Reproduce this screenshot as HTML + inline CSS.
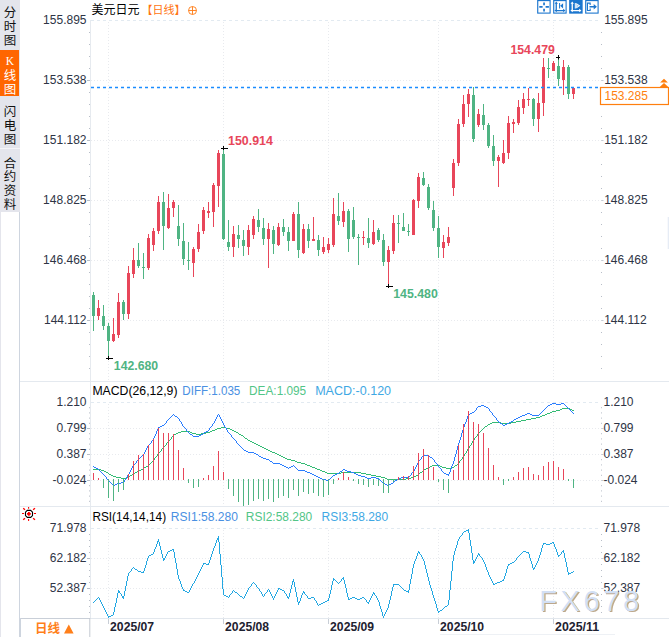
<!DOCTYPE html>
<html><head><meta charset="utf-8"><title>USDJPY</title>
<style>
html,body{margin:0;padding:0;background:#fff;}
body{width:669px;height:637px;overflow:hidden;font-family:"Liberation Sans",sans-serif;}
svg{display:block}
text{font-family:"Liberation Sans",sans-serif;font-size:12px}
.b{font-weight:bold}
.cjk{font-family:"Liberation Sans","Noto Sans CJK SC",sans-serif}
</style></head><body>
<svg width="669" height="637" viewBox="0 0 669 637">
<rect width="669" height="637" fill="#fff"/>
<rect x="0" y="0" width="20" height="212" fill="#E4E5EC"/>
<rect x="0" y="50" width="19" height="46" fill="#FF6600"/>
<rect x="0" y="148" width="20" height="1" fill="#F4F4F8"/>
<rect x="0" y="212" width="1" height="425" fill="#E4E5EC"/>
<rect x="19" y="212" width="1" height="425" fill="#CED5DF"/>
<g class="cjk" fill="#111" text-anchor="middle" style="font-size:12.5px">
<text class="cjk" x="10" y="16.5" style="font-size:12.5px">分</text>
<text class="cjk" x="10" y="30.5" style="font-size:12.5px">时</text>
<text class="cjk" x="10" y="44.6" style="font-size:12.5px">图</text>
</g>
<text x="9.8" y="65.2" text-anchor="middle" fill="#fff" style="font-family:'Liberation Serif',serif;font-size:11.5px">K</text>
<g fill="#fff" text-anchor="middle">
<text class="cjk" x="10" y="80" style="font-size:12.5px">线</text>
<text class="cjk" x="10" y="94" style="font-size:12.5px">图</text>
</g>
<g fill="#111" text-anchor="middle">
<text class="cjk" x="10" y="116" style="font-size:12.5px">闪</text>
<text class="cjk" x="10" y="129.9" style="font-size:12.5px">电</text>
<text class="cjk" x="10" y="143.8" style="font-size:12.5px">图</text>
</g>
<g fill="#111" text-anchor="middle">
<text class="cjk" x="10" y="167.5" style="font-size:12.5px">合</text>
<text class="cjk" x="10" y="181.3" style="font-size:12.5px">约</text>
<text class="cjk" x="10" y="195.2" style="font-size:12.5px">资</text>
<text class="cjk" x="10" y="209" style="font-size:12.5px">料</text>
</g>
<rect x="90" y="20" width="1" height="598" fill="#E6EAEF"/>
<rect x="20" y="381" width="649" height="1" fill="#E4E9EF"/>
<rect x="20" y="506" width="649" height="1" fill="#E4E9EF"/>
<rect x="90" y="618" width="579" height="1" fill="#E3E8EE"/>
<rect x="20" y="618" width="70" height="1" fill="#C9CFD8"/>
<rect x="440" y="634" width="175" height="1" fill="#EEF1F5"/>
<line x1="91" y1="20.5" x2="600" y2="20.5" stroke="#E2EAF1" stroke-width="1" stroke-dasharray="3 3"/>
<line x1="91" y1="80.5" x2="600" y2="80.5" stroke="#E8EAEE" stroke-width="1" stroke-dasharray="1 2"/>
<line x1="91" y1="140.5" x2="600" y2="140.5" stroke="#E8EAEE" stroke-width="1" stroke-dasharray="1 2"/>
<line x1="91" y1="200.5" x2="600" y2="200.5" stroke="#E8EAEE" stroke-width="1" stroke-dasharray="1 2"/>
<line x1="91" y1="260.5" x2="600" y2="260.5" stroke="#E8EAEE" stroke-width="1" stroke-dasharray="1 2"/>
<line x1="91" y1="320.5" x2="600" y2="320.5" stroke="#E8EAEE" stroke-width="1" stroke-dasharray="1 2"/>
<line x1="108.5" y1="22" x2="108.5" y2="381" stroke="#E8EAEE" stroke-width="1" stroke-dasharray="1 2"/>
<line x1="108.5" y1="404" x2="108.5" y2="506" stroke="#E8EAEE" stroke-width="1" stroke-dasharray="1 2"/>
<line x1="108.5" y1="530" x2="108.5" y2="618" stroke="#E8EAEE" stroke-width="1" stroke-dasharray="1 2"/>
<line x1="223.5" y1="22" x2="223.5" y2="381" stroke="#E8EAEE" stroke-width="1" stroke-dasharray="1 2"/>
<line x1="223.5" y1="404" x2="223.5" y2="506" stroke="#E8EAEE" stroke-width="1" stroke-dasharray="1 2"/>
<line x1="223.5" y1="530" x2="223.5" y2="618" stroke="#E8EAEE" stroke-width="1" stroke-dasharray="1 2"/>
<line x1="328.5" y1="22" x2="328.5" y2="381" stroke="#E8EAEE" stroke-width="1" stroke-dasharray="1 2"/>
<line x1="328.5" y1="404" x2="328.5" y2="506" stroke="#E8EAEE" stroke-width="1" stroke-dasharray="1 2"/>
<line x1="328.5" y1="530" x2="328.5" y2="618" stroke="#E8EAEE" stroke-width="1" stroke-dasharray="1 2"/>
<line x1="438.5" y1="22" x2="438.5" y2="381" stroke="#E8EAEE" stroke-width="1" stroke-dasharray="1 2"/>
<line x1="438.5" y1="404" x2="438.5" y2="506" stroke="#E8EAEE" stroke-width="1" stroke-dasharray="1 2"/>
<line x1="438.5" y1="530" x2="438.5" y2="618" stroke="#E8EAEE" stroke-width="1" stroke-dasharray="1 2"/>
<line x1="553.5" y1="22" x2="553.5" y2="381" stroke="#E8EAEE" stroke-width="1" stroke-dasharray="1 2"/>
<line x1="553.5" y1="404" x2="553.5" y2="506" stroke="#E8EAEE" stroke-width="1" stroke-dasharray="1 2"/>
<line x1="553.5" y1="530" x2="553.5" y2="618" stroke="#E8EAEE" stroke-width="1" stroke-dasharray="1 2"/>
<line x1="91" y1="402.5" x2="600" y2="402.5" stroke="#E2EAF1" stroke-width="1" stroke-dasharray="3 3"/>
<line x1="91" y1="428.5" x2="600" y2="428.5" stroke="#E8EAEE" stroke-width="1" stroke-dasharray="1 2"/>
<line x1="91" y1="454.5" x2="600" y2="454.5" stroke="#E8EAEE" stroke-width="1" stroke-dasharray="1 2"/>
<line x1="91" y1="480.5" x2="600" y2="480.5" stroke="#E8EAEE" stroke-width="1" stroke-dasharray="1 2"/>
<line x1="91" y1="528.5" x2="600" y2="528.5" stroke="#E2EAF1" stroke-width="1" stroke-dasharray="3 3"/>
<line x1="91" y1="558.5" x2="600" y2="558.5" stroke="#E8EAEE" stroke-width="1" stroke-dasharray="1 2"/>
<line x1="91" y1="588.5" x2="600" y2="588.5" stroke="#E8EAEE" stroke-width="1" stroke-dasharray="1 2"/>
<rect x="89" y="32" width="1" height="1" fill="#B8BEC8"/>
<rect x="601" y="32" width="1" height="1" fill="#B8BEC8"/>
<rect x="89" y="44" width="1" height="1" fill="#B8BEC8"/>
<rect x="601" y="44" width="1" height="1" fill="#B8BEC8"/>
<rect x="89" y="56" width="1" height="1" fill="#B8BEC8"/>
<rect x="601" y="56" width="1" height="1" fill="#B8BEC8"/>
<rect x="89" y="68" width="1" height="1" fill="#B8BEC8"/>
<rect x="601" y="68" width="1" height="1" fill="#B8BEC8"/>
<rect x="87" y="80" width="3" height="1" fill="#B8BEC8"/>
<rect x="601.2" y="80" width="2.3" height="1" fill="#C6CBD4"/>
<rect x="89" y="92" width="1" height="1" fill="#B8BEC8"/>
<rect x="601" y="92" width="1" height="1" fill="#B8BEC8"/>
<rect x="89" y="104" width="1" height="1" fill="#B8BEC8"/>
<rect x="601" y="104" width="1" height="1" fill="#B8BEC8"/>
<rect x="89" y="116" width="1" height="1" fill="#B8BEC8"/>
<rect x="601" y="116" width="1" height="1" fill="#B8BEC8"/>
<rect x="89" y="128" width="1" height="1" fill="#B8BEC8"/>
<rect x="601" y="128" width="1" height="1" fill="#B8BEC8"/>
<rect x="87" y="140" width="3" height="1" fill="#B8BEC8"/>
<rect x="601.2" y="140" width="2.3" height="1" fill="#C6CBD4"/>
<rect x="89" y="152" width="1" height="1" fill="#B8BEC8"/>
<rect x="601" y="152" width="1" height="1" fill="#B8BEC8"/>
<rect x="89" y="164" width="1" height="1" fill="#B8BEC8"/>
<rect x="601" y="164" width="1" height="1" fill="#B8BEC8"/>
<rect x="89" y="176" width="1" height="1" fill="#B8BEC8"/>
<rect x="601" y="176" width="1" height="1" fill="#B8BEC8"/>
<rect x="89" y="188" width="1" height="1" fill="#B8BEC8"/>
<rect x="601" y="188" width="1" height="1" fill="#B8BEC8"/>
<rect x="87" y="200" width="3" height="1" fill="#B8BEC8"/>
<rect x="601.2" y="200" width="2.3" height="1" fill="#C6CBD4"/>
<rect x="89" y="212" width="1" height="1" fill="#B8BEC8"/>
<rect x="601" y="212" width="1" height="1" fill="#B8BEC8"/>
<rect x="89" y="224" width="1" height="1" fill="#B8BEC8"/>
<rect x="601" y="224" width="1" height="1" fill="#B8BEC8"/>
<rect x="89" y="236" width="1" height="1" fill="#B8BEC8"/>
<rect x="601" y="236" width="1" height="1" fill="#B8BEC8"/>
<rect x="89" y="248" width="1" height="1" fill="#B8BEC8"/>
<rect x="601" y="248" width="1" height="1" fill="#B8BEC8"/>
<rect x="87" y="260" width="3" height="1" fill="#B8BEC8"/>
<rect x="601.2" y="260" width="2.3" height="1" fill="#C6CBD4"/>
<rect x="89" y="272" width="1" height="1" fill="#B8BEC8"/>
<rect x="601" y="272" width="1" height="1" fill="#B8BEC8"/>
<rect x="89" y="284" width="1" height="1" fill="#B8BEC8"/>
<rect x="601" y="284" width="1" height="1" fill="#B8BEC8"/>
<rect x="89" y="296" width="1" height="1" fill="#B8BEC8"/>
<rect x="601" y="296" width="1" height="1" fill="#B8BEC8"/>
<rect x="89" y="308" width="1" height="1" fill="#B8BEC8"/>
<rect x="601" y="308" width="1" height="1" fill="#B8BEC8"/>
<rect x="87" y="320" width="3" height="1" fill="#B8BEC8"/>
<rect x="601.2" y="320" width="2.3" height="1" fill="#C6CBD4"/>
<rect x="89" y="332" width="1" height="1" fill="#B8BEC8"/>
<rect x="601" y="332" width="1" height="1" fill="#B8BEC8"/>
<rect x="89" y="344" width="1" height="1" fill="#B8BEC8"/>
<rect x="601" y="344" width="1" height="1" fill="#B8BEC8"/>
<rect x="89" y="356" width="1" height="1" fill="#B8BEC8"/>
<rect x="601" y="356" width="1" height="1" fill="#B8BEC8"/>
<rect x="89" y="368" width="1" height="1" fill="#B8BEC8"/>
<rect x="601" y="368" width="1" height="1" fill="#B8BEC8"/>
<rect x="89" y="407.2" width="1" height="1" fill="#B8BEC8"/>
<rect x="601" y="407.2" width="1" height="1" fill="#B8BEC8"/>
<rect x="89" y="412.4" width="1" height="1" fill="#B8BEC8"/>
<rect x="601" y="412.4" width="1" height="1" fill="#B8BEC8"/>
<rect x="89" y="417.6" width="1" height="1" fill="#B8BEC8"/>
<rect x="601" y="417.6" width="1" height="1" fill="#B8BEC8"/>
<rect x="89" y="422.8" width="1" height="1" fill="#B8BEC8"/>
<rect x="601" y="422.8" width="1" height="1" fill="#B8BEC8"/>
<rect x="87" y="428" width="3" height="1" fill="#B8BEC8"/>
<rect x="601.2" y="428" width="2.3" height="1" fill="#C6CBD4"/>
<rect x="89" y="433.2" width="1" height="1" fill="#B8BEC8"/>
<rect x="601" y="433.2" width="1" height="1" fill="#B8BEC8"/>
<rect x="89" y="438.4" width="1" height="1" fill="#B8BEC8"/>
<rect x="601" y="438.4" width="1" height="1" fill="#B8BEC8"/>
<rect x="89" y="443.6" width="1" height="1" fill="#B8BEC8"/>
<rect x="601" y="443.6" width="1" height="1" fill="#B8BEC8"/>
<rect x="89" y="448.8" width="1" height="1" fill="#B8BEC8"/>
<rect x="601" y="448.8" width="1" height="1" fill="#B8BEC8"/>
<rect x="87" y="454" width="3" height="1" fill="#B8BEC8"/>
<rect x="601.2" y="454" width="2.3" height="1" fill="#C6CBD4"/>
<rect x="89" y="459.2" width="1" height="1" fill="#B8BEC8"/>
<rect x="601" y="459.2" width="1" height="1" fill="#B8BEC8"/>
<rect x="89" y="464.4" width="1" height="1" fill="#B8BEC8"/>
<rect x="601" y="464.4" width="1" height="1" fill="#B8BEC8"/>
<rect x="89" y="469.6" width="1" height="1" fill="#B8BEC8"/>
<rect x="601" y="469.6" width="1" height="1" fill="#B8BEC8"/>
<rect x="89" y="474.8" width="1" height="1" fill="#B8BEC8"/>
<rect x="601" y="474.8" width="1" height="1" fill="#B8BEC8"/>
<rect x="87" y="480" width="3" height="1" fill="#B8BEC8"/>
<rect x="601.2" y="480" width="2.3" height="1" fill="#C6CBD4"/>
<rect x="89" y="485.2" width="1" height="1" fill="#B8BEC8"/>
<rect x="601" y="485.2" width="1" height="1" fill="#B8BEC8"/>
<rect x="89" y="490.4" width="1" height="1" fill="#B8BEC8"/>
<rect x="601" y="490.4" width="1" height="1" fill="#B8BEC8"/>
<rect x="89" y="495.6" width="1" height="1" fill="#B8BEC8"/>
<rect x="601" y="495.6" width="1" height="1" fill="#B8BEC8"/>
<rect x="89" y="500.8" width="1" height="1" fill="#B8BEC8"/>
<rect x="601" y="500.8" width="1" height="1" fill="#B8BEC8"/>
<rect x="89" y="534" width="1" height="1" fill="#B8BEC8"/>
<rect x="601" y="534" width="1" height="1" fill="#B8BEC8"/>
<rect x="89" y="540" width="1" height="1" fill="#B8BEC8"/>
<rect x="601" y="540" width="1" height="1" fill="#B8BEC8"/>
<rect x="89" y="546" width="1" height="1" fill="#B8BEC8"/>
<rect x="601" y="546" width="1" height="1" fill="#B8BEC8"/>
<rect x="89" y="552" width="1" height="1" fill="#B8BEC8"/>
<rect x="601" y="552" width="1" height="1" fill="#B8BEC8"/>
<rect x="87" y="558" width="3" height="1" fill="#B8BEC8"/>
<rect x="601.2" y="558" width="2.3" height="1" fill="#C6CBD4"/>
<rect x="89" y="564" width="1" height="1" fill="#B8BEC8"/>
<rect x="601" y="564" width="1" height="1" fill="#B8BEC8"/>
<rect x="89" y="570" width="1" height="1" fill="#B8BEC8"/>
<rect x="601" y="570" width="1" height="1" fill="#B8BEC8"/>
<rect x="89" y="576" width="1" height="1" fill="#B8BEC8"/>
<rect x="601" y="576" width="1" height="1" fill="#B8BEC8"/>
<rect x="89" y="582" width="1" height="1" fill="#B8BEC8"/>
<rect x="601" y="582" width="1" height="1" fill="#B8BEC8"/>
<rect x="87" y="588" width="3" height="1" fill="#B8BEC8"/>
<rect x="601.2" y="588" width="2.3" height="1" fill="#C6CBD4"/>
<rect x="89" y="594" width="1" height="1" fill="#B8BEC8"/>
<rect x="601" y="594" width="1" height="1" fill="#B8BEC8"/>
<rect x="89" y="600" width="1" height="1" fill="#B8BEC8"/>
<rect x="601" y="600" width="1" height="1" fill="#B8BEC8"/>
<rect x="89" y="606" width="1" height="1" fill="#B8BEC8"/>
<rect x="601" y="606" width="1" height="1" fill="#B8BEC8"/>
<rect x="89" y="612" width="1" height="1" fill="#B8BEC8"/>
<rect x="601" y="612" width="1" height="1" fill="#B8BEC8"/>
<text x="86.5" y="23.7" text-anchor="end" fill="#2E3445">155.895</text>
<text x="604.2" y="23.7" fill="#2E3445">155.895</text>
<text x="86.5" y="83.7" text-anchor="end" fill="#2E3445">153.538</text>
<text x="604.2" y="83.7" fill="#2E3445">153.538</text>
<text x="86.5" y="143.7" text-anchor="end" fill="#2E3445">151.182</text>
<text x="604.2" y="143.7" fill="#2E3445">151.182</text>
<text x="86.5" y="203.7" text-anchor="end" fill="#2E3445">148.825</text>
<text x="604.2" y="203.7" fill="#2E3445">148.825</text>
<text x="86.5" y="263.7" text-anchor="end" fill="#2E3445">146.468</text>
<text x="604.2" y="263.7" fill="#2E3445">146.468</text>
<text x="86.5" y="323.7" text-anchor="end" fill="#2E3445">144.112</text>
<text x="604.2" y="323.7" fill="#2E3445">144.112</text>
<text x="86.5" y="405.7" text-anchor="end" fill="#2E3445">1.210</text>
<text x="603.5" y="405.7" fill="#2E3445">1.210</text>
<text x="86.5" y="431.7" text-anchor="end" fill="#2E3445">0.799</text>
<text x="603.5" y="431.7" fill="#2E3445">0.799</text>
<text x="86.5" y="457.7" text-anchor="end" fill="#2E3445">0.387</text>
<text x="603.5" y="457.7" fill="#2E3445">0.387</text>
<text x="86.5" y="483.7" text-anchor="end" fill="#2E3445">-0.024</text>
<text x="603.5" y="483.7" fill="#2E3445">-0.024</text>
<text x="86.5" y="531.7" text-anchor="end" fill="#2E3445">71.978</text>
<text x="603.5" y="531.7" fill="#2E3445">71.978</text>
<text x="86.5" y="561.7" text-anchor="end" fill="#2E3445">62.182</text>
<text x="603.5" y="561.7" fill="#2E3445">62.182</text>
<text x="86.5" y="591.7" text-anchor="end" fill="#2E3445">52.387</text>
<text x="603.5" y="591.7" fill="#2E3445">52.387</text>
<rect x="667.7" y="217" width="1.3" height="32" fill="#E6ECF5"/>
<text class="cjk" x="91.5" y="13.5" fill="#000" style="font-size:12px">美元日元</text>
<text class="cjk" x="141.5" y="13.7" fill="#FF7410" style="font-size:11px">【日线】</text>
<g stroke="#FF7A14" stroke-width="0.9" fill="none"><circle cx="192.5" cy="10.5" r="4"/><path d="M188.5 10.5H196.5M192.5 6.5V14.5"/></g>
<rect x="537.15" y="-1" width="13.5" height="14.65" fill="#1B76CE"/>
<rect x="538.3" y="1.15" width="11.25" height="11.4" fill="#fff"/>
<path fill="#1B76CE" d="M539.3 6.1h3.3v1.6H539.3zM545.6 6.1h3.3v1.6h-3.3zM543.2 2.4h1.7v2.8h-1.7zM543.2 8.8h1.7v2.8h-1.7z"/>
<rect x="553.15" y="-1" width="13.5" height="14.65" fill="#1B76CE"/>
<rect x="554.3" y="1.15" width="11.25" height="11.4" fill="#fff"/>
<path fill="#1B76CE" d="M555.6 2.6h1.3v8.6h-1.3zM555.2 9.9h9.8v1.3h-9.8zM556.25 1.5l1.7 2.3h-3.4zM565.4 10.55l-2.3 1.7v-3.4zM556.25 12.2l-1.5-1.9h3zM554.4 10.55l1.9-1.5v3z"/>
<path fill="#1B76CE" d="M559.1 3.1h1v5.5h-1zM560.2 5.85L563.1 3.2v5.3z"/>
<rect x="569.15" y="-1" width="13.5" height="14.65" fill="#1B76CE"/>
<path fill="#fff" d="M571.6 2.6h1.3v8.6h-1.3zM571.2 9.9h9.8v1.3h-9.8zM572.25 1.5l1.7 2.3h-3.4zM581.4 10.55l-2.3 1.7v-3.4zM572.25 12.2l-1.5-1.9h3zM570.4 10.55l1.9-1.5v3z"/>
<path fill="#fff" d="M574.8 3.1h1v5.5h-1zM576.2 3.1L580.3 5.85L576.2 8.6z"/>
<path fill="#9CC6EE" d="M577 4.6L578.9 5.85L577 7.1z"/>
<rect x="585.15" y="-1" width="13.5" height="14.65" fill="#1B76CE"/>
<rect x="586.3" y="1.15" width="11.25" height="11.4" fill="#fff"/>
<path fill="#1B76CE" d="M586.9 2.6h3.8v2.4h-1.1v-1.3h-1.6v6.2h1.6v-1.3h1.1v2.4h-3.8z"/>
<path fill="#1B76CE" d="M589.5 6h4.2v-1.9L596.9 6.8 593.7 9.5V7.6h-4.2z"/>
<path fill="#4FB483" d="M93 292h1V331h-1zM92 295h3V316h-3zM103 305h1V330h-1zM102 316h3V326h-3zM108 323h1V358h-1zM107 326h3V341h-3zM123 300h1V320h-1zM122 302h3V314h-3zM138 243h1V268h-1zM137 260h3V266h-3zM143 253h1V279h-1zM142 267h3V268h-3zM163 192h1V250h-1zM162 202h3V226h-3zM178 205h1V246h-1zM177 226h3V239h-3zM183 223h1V265h-1zM182 241h3V259h-3zM188 242h1V270h-1zM187 260h3V261h-3zM223 148h1V240h-1zM222 154h3V239h-3zM228 220h1V251h-1zM227 242h3V247h-3zM238 225h1V248h-1zM237 235h3V239h-3zM243 230h1V256h-1zM242 240h3V246h-3zM258 209h1V232h-1zM257 220h3V227h-3zM263 218h1V245h-1zM262 228h3V239h-3zM273 226h1V254h-1zM272 230h3V244h-3zM283 219h1V236h-1zM282 227h3V232h-3zM288 227h1V251h-1zM287 232h3V241h-3zM298 202h1V258h-1zM297 214h3V250h-3zM308 224h1V248h-1zM307 229h3V241h-3zM318 235h1V256h-1zM317 240h3V250h-3zM338 193h1V225h-1zM337 216h3V221h-3zM348 209h1V252h-1zM347 211h3V239h-3zM353 207h1V239h-1zM352 220h3V237h-3zM358 234h1V265h-1zM357 237h3V238h-3zM368 218h1V248h-1zM367 238h3V243h-3zM378 228h1V242h-1zM377 230h3V240h-3zM383 234h1V266h-1zM382 240h3V262h-3zM398 215h1V243h-1zM397 223h3V224h-3zM403 213h1V231h-1zM402 227h3V231h-3zM408 224h1V236h-1zM407 231h3V232h-3zM423 172h1V186h-1zM422 178h3V185h-3zM428 184h1V210h-1zM427 187h3V208h-3zM433 201h1V231h-1zM432 210h3V228h-3zM438 216h1V258h-1zM437 228h3V247h-3zM473 87h1V142h-1zM472 95h3V139h-3zM483 104h1V130h-1zM482 115h3V125h-3zM488 123h1V148h-1zM487 125h3V146h-3zM493 135h1V166h-1zM492 146h3V161h-3zM533 98h1V126h-1zM532 99h3V119h-3zM548 58h1V78h-1zM547 68h3V69h-3zM558 58h1V86h-1zM557 66h3V79h-3zM568 65h1V99h-1zM567 67h3V94h-3z"/>
<path fill="#E8465A" d="M98 300h1V320h-1zM97 308h3V316h-3zM113 318h1V342h-1zM112 334h3V341h-3zM118 293h1V338h-1zM117 302h3V335h-3zM128 266h1V319h-1zM127 273h3V314h-3zM133 248h1V278h-1zM132 260h3V274h-3zM148 234h1V270h-1zM147 238h3V268h-3zM153 228h1V251h-1zM152 231h3V245h-3zM158 196h1V234h-1zM157 202h3V231h-3zM168 194h1V229h-1zM167 208h3V228h-3zM173 200h1V217h-1zM172 202h3V208h-3zM193 247h1V277h-1zM192 249h3V263h-3zM198 224h1V252h-1zM197 232h3V249h-3zM203 207h1V234h-1zM202 210h3V231h-3zM208 202h1V218h-1zM207 211h3V213h-3zM213 183h1V227h-1zM212 185h3V212h-3zM218 150h1V207h-1zM217 153h3V186h-3zM233 226h1V257h-1zM232 234h3V247h-3zM248 225h1V255h-1zM247 230h3V247h-3zM253 216h1V239h-1zM252 219h3V235h-3zM268 223h1V268h-1zM267 229h3V239h-3zM278 223h1V246h-1zM277 227h3V245h-3zM293 212h1V241h-1zM292 214h3V241h-3zM303 224h1V254h-1zM302 229h3V253h-3zM313 217h1V241h-1zM312 239h3V241h-3zM323 237h1V254h-1zM322 247h3V252h-3zM328 238h1V253h-1zM327 244h3V250h-3zM333 198h1V247h-1zM332 214h3V245h-3zM343 202h1V227h-1zM342 211h3V222h-3zM363 231h1V245h-1zM362 237h3V238h-3zM373 220h1V245h-1zM372 232h3V244h-3zM388 246h1V286h-1zM387 250h3V262h-3zM393 215h1V254h-1zM392 223h3V251h-3zM413 199h1V235h-1zM412 200h3V235h-3zM418 173h1V208h-1zM417 177h3V201h-3zM443 235h1V258h-1zM442 242h3V248h-3zM448 227h1V246h-1zM447 237h3V243h-3zM453 159h1V196h-1zM452 163h3V188h-3zM458 119h1V166h-1zM457 124h3V163h-3zM463 95h1V127h-1zM462 104h3V124h-3zM468 89h1V117h-1zM467 94h3V104h-3zM478 109h1V127h-1zM477 114h3V125h-3zM498 155h1V187h-1zM497 157h3V161h-3zM503 140h1V164h-1zM502 153h3V163h-3zM508 116h1V159h-1zM507 123h3V153h-3zM513 119h1V133h-1zM512 122h3V124h-3zM518 100h1V125h-1zM517 107h3V123h-3zM523 93h1V114h-1zM522 99h3V108h-3zM528 88h1V106h-1zM527 99h3V100h-3zM538 93h1V132h-1zM537 103h3V119h-3zM543 58h1V116h-1zM542 67h3V103h-3zM553 61h1V71h-1zM552 63h3V71h-3zM563 60h1V95h-1zM562 67h3V80h-3zM573 87h1V99h-1zM572 88h3V94h-3z"/>
<line x1="91" y1="87.5" x2="600" y2="87.5" stroke="#1A8CFF" stroke-width="1.35" stroke-dasharray="3 3"/>
<rect x="600.5" y="87.5" width="68" height="17" fill="#fff" stroke="#FF7F0E" stroke-width="1.2"/>
<text x="604.5" y="100" fill="#FF7F0E">153.285</text>
<path fill="#FF7F0E" d="M664 78.8l3.9 3.8h-7.8zM664 83l4.8 4.6h-9.6z"/>
<path fill="#000" d="M221 148h7v1h-7zM223 146h1v4h-1z"/>
<text class="b" x="228.1" y="145" fill="#E8465A" textLength="44.8" lengthAdjust="spacingAndGlyphs">150.914</text>
<path fill="#000" d="M106 358h7v1h-7zM108 356h1v4h-1z"/>
<text class="b" x="113.8" y="369.7" fill="#4FB483" textLength="44.4" lengthAdjust="spacingAndGlyphs">142.680</text>
<path fill="#000" d="M386 286h7v1h-7zM388 284h1v4h-1z"/>
<text class="b" x="393.2" y="297.5" fill="#4FB483" textLength="44.6" lengthAdjust="spacingAndGlyphs">145.480</text>
<path fill="#000" d="M556 57h4v1h-4zM558 55h1v4.4h-1z"/>
<text class="b" x="510.4" y="54" fill="#E8465A" textLength="44.5" lengthAdjust="spacingAndGlyphs">154.479</text>
<path fill="#33BB74" d="M469 446h1v2h-1zM154 458h1v2h-1zM157 454h1v2h-1zM472 441h1v2h-1zM459 461h1v2h-1zM471 443h1v2h-1zM462 457h1v2h-1zM467 449h1v2h-1zM474 438h1v2h-1zM166 443h1v2h-1zM161 449h1v2h-1zM477 434h1v2h-1zM464 454h1v2h-1zM171 437h1v2h-1zM466 451h1v2h-1zM149 464h1v1h-1zM305 464h2v1h-2zM457 464h1v1h-1zM542 415h3v1h-3zM111 475h2v1h-2zM130 475h2v1h-2zM371 475h5v1h-5zM416 475h2v1h-2zM113 476h3v1h-3zM129 476h1v1h-1zM376 476h5v1h-5zM414 476h2v1h-2zM490 423h2v1h-2zM501 423h10v1h-10zM104 471h2v1h-2zM137 471h2v1h-2zM322 471h3v1h-3zM422 471h1v1h-1zM212 430h3v1h-3zM232 430h2v1h-2zM481 430h1v1h-1zM143 468h1v1h-1zM315 468h2v1h-2zM426 468h2v1h-2zM446 468h5v1h-5zM536 417h4v1h-4zM108 473h1v1h-1zM133 473h2v1h-2zM327 473h14v1h-14zM361 473h5v1h-5zM419 473h1v1h-1zM153 460h1v1h-1zM291 460h4v1h-4zM460 460h1v1h-1zM106 472h2v1h-2zM135 472h2v1h-2zM325 472h2v1h-2zM341 472h20v1h-20zM420 472h2v1h-2zM221 427h5v1h-5zM484 427h1v1h-1zM562 408h8v1h-8zM144 467h2v1h-2zM312 467h3v1h-3zM428 467h2v1h-2zM442 467h4v1h-4zM451 467h3v1h-3zM245 438h2v1h-2zM101 470h3v1h-3zM139 470h2v1h-2zM320 470h2v1h-2zM423 470h1v1h-1zM173 435h1v1h-1zM241 435h2v1h-2zM387 479h19v1h-19zM531 418h5v1h-5zM93 469h8v1h-8zM141 469h2v1h-2zM317 469h3v1h-3zM424 469h2v1h-2zM492 422h9v1h-9zM511 422h5v1h-5zM215 429h2v1h-2zM230 429h2v1h-2zM482 429h1v1h-1zM148 465h1v1h-1zM307 465h3v1h-3zM432 465h8v1h-8zM455 465h2v1h-2zM181 431h9v1h-9zM210 431h2v1h-2zM234 431h2v1h-2zM480 431h1v1h-1zM116 477h5v1h-5zM126 477h3v1h-3zM381 477h4v1h-4zM411 477h3v1h-3zM162 448h1v1h-1zM264 448h2v1h-2zM468 448h1v1h-1zM150 463h1v1h-1zM301 463h4v1h-4zM458 463h1v1h-1zM217 428h4v1h-4zM226 428h4v1h-4zM483 428h1v1h-1zM121 478h5v1h-5zM385 478h2v1h-2zM406 478h5v1h-5zM174 434h2v1h-2zM196 434h5v1h-5zM239 434h2v1h-2zM550 412h2v1h-2zM526 419h5v1h-5zM158 453h1v1h-1zM275 453h2v1h-2zM465 453h1v1h-1zM178 432h3v1h-3zM190 432h2v1h-2zM206 432h4v1h-4zM236 432h2v1h-2zM479 432h1v1h-1zM556 410h4v1h-4zM572 410h2v1h-2zM488 424h2v1h-2zM156 456h1v1h-1zM281 456h2v1h-2zM463 456h1v1h-1zM176 433h2v1h-2zM192 433h4v1h-4zM201 433h5v1h-5zM238 433h1v1h-1zM478 433h1v1h-1zM545 414h2v1h-2zM285 458h2v1h-2zM552 411h4v1h-4zM160 451h1v1h-1zM270 451h2v1h-2zM163 447h1v1h-1zM262 447h2v1h-2zM172 436h1v1h-1zM243 436h1v1h-1zM476 436h1v1h-1zM266 449h2v1h-2zM169 440h1v1h-1zM248 440h2v1h-2zM473 440h1v1h-1zM287 459h4v1h-4zM461 459h1v1h-1zM521 420h5v1h-5zM164 446h1v1h-1zM260 446h2v1h-2zM146 466h2v1h-2zM310 466h2v1h-2zM430 466h2v1h-2zM440 466h2v1h-2zM454 466h1v1h-1zM159 452h1v1h-1zM272 452h3v1h-3zM109 474h2v1h-2zM132 474h1v1h-1zM366 474h5v1h-5zM418 474h1v1h-1zM487 425h1v1h-1zM167 442h1v1h-1zM252 442h2v1h-2zM547 413h3v1h-3zM277 454h2v1h-2zM152 461h1v1h-1zM295 461h2v1h-2zM244 437h1v1h-1zM475 437h1v1h-1zM254 443h2v1h-2zM516 421h5v1h-5zM165 445h1v1h-1zM258 445h2v1h-2zM470 445h1v1h-1zM168 441h1v1h-1zM250 441h2v1h-2zM170 439h1v1h-1zM247 439h1v1h-1zM560 409h2v1h-2zM570 409h2v1h-2zM151 462h1v1h-1zM297 462h4v1h-4zM540 416h2v1h-2zM485 426h2v1h-2zM268 450h2v1h-2zM256 444h2v1h-2zM279 455h2v1h-2zM155 457h1v1h-1zM283 457h2v1h-2z"/>
<path fill="#2A7DFF" d="M220 417h1v2h-1zM450 469h1v3h-1zM463 427h1v3h-1zM454 457h1v4h-1zM158 427h1v2h-1zM449 472h1v2h-1zM219 415h1v2h-1zM222 421h1v2h-1zM462 430h1v3h-1zM231 435h1v2h-1zM146 448h1v2h-1zM131 468h1v2h-1zM461 433h1v4h-1zM153 438h1v2h-1zM453 461h1v3h-1zM226 428h1v2h-1zM411 473h1v2h-1zM457 446h1v4h-1zM166 421h1v2h-1zM452 464h1v2h-1zM496 418h1v2h-1zM434 460h1v2h-1zM106 477h1v2h-1zM414 469h1v2h-1zM489 409h1v2h-1zM418 461h1v2h-1zM157 429h1v2h-1zM448 474h1v2h-1zM132 466h1v2h-1zM156 431h1v3h-1zM145 450h1v2h-1zM464 424h1v3h-1zM456 450h1v4h-1zM437 464h1v2h-1zM124 480h1v2h-1zM421 457h1v2h-1zM217 415h1v2h-1zM417 463h1v2h-1zM144 452h1v2h-1zM179 419h1v2h-1zM460 437h1v3h-1zM127 475h1v2h-1zM451 466h1v3h-1zM468 414h1v2h-1zM151 441h1v2h-1zM455 454h1v3h-1zM459 440h1v3h-1zM182 424h1v2h-1zM416 465h1v2h-1zM209 428h1v2h-1zM136 461h1v2h-1zM467 416h1v3h-1zM216 417h1v2h-1zM155 434h1v2h-1zM458 443h1v3h-1zM212 424h1v2h-1zM466 419h1v3h-1zM227 430h1v2h-1zM126 477h1v2h-1zM181 422h1v2h-1zM223 423h1v2h-1zM130 470h1v2h-1zM215 419h1v2h-1zM154 436h1v2h-1zM492 413h1v2h-1zM415 467h1v2h-1zM236 441h1v2h-1zM465 422h1v2h-1zM441 469h1v2h-1zM129 472h1v2h-1zM214 421h1v2h-1zM224 425h1v2h-1zM476 408h1v2h-1zM221 419h1v2h-1zM186 429h1v2h-1zM147 446h1v2h-1zM193 436h6v1h-6zM318 477h2v1h-2zM331 477h1v1h-1zM365 477h2v1h-2zM371 477h5v1h-5zM401 477h8v1h-8zM111 483h1v1h-1zM117 483h4v1h-4zM383 483h2v1h-2zM391 483h2v1h-2zM149 444h1v1h-1zM238 444h1v1h-1zM112 484h1v1h-1zM115 484h2v1h-2zM385 484h2v1h-2zM389 484h2v1h-2zM320 478h2v1h-2zM330 478h1v1h-1zM367 478h4v1h-4zM376 478h3v1h-3zM398 478h3v1h-3zM167 420h1v1h-1zM497 420h1v1h-1zM513 420h1v1h-1zM103 474h1v1h-1zM128 474h1v1h-1zM312 474h2v1h-2zM335 474h2v1h-2zM356 474h2v1h-2zM446 474h2v1h-2zM192 435h1v1h-1zM199 435h2v1h-2zM164 424h1v1h-1zM502 424h1v1h-1zM505 424h2v1h-2zM150 443h1v1h-1zM237 443h1v1h-1zM550 404h2v1h-2zM556 404h5v1h-5zM564 404h1v1h-1zM188 432h1v1h-1zM204 432h2v1h-2zM228 432h1v1h-1zM478 406h3v1h-3zM484 406h2v1h-2zM547 406h1v1h-1zM566 406h1v1h-1zM180 421h1v1h-1zM498 421h1v1h-1zM511 421h2v1h-2zM272 462h1v1h-1zM435 462h1v1h-1zM101 472h1v1h-1zM307 472h3v1h-3zM339 472h1v1h-1zM351 472h3v1h-3zM412 472h1v1h-1zM443 472h1v1h-1zM475 410h1v1h-1zM543 410h1v1h-1zM570 410h1v1h-1zM172 415h1v1h-1zM174 415h1v1h-1zM493 415h1v1h-1zM522 415h3v1h-3zM532 415h7v1h-7zM94 467h2v1h-2zM286 467h2v1h-2zM289 467h2v1h-2zM295 467h1v1h-1zM439 467h1v1h-1zM104 475h1v1h-1zM314 475h2v1h-2zM333 475h2v1h-2zM358 475h3v1h-3zM410 475h1v1h-1zM98 469h1v1h-1zM297 469h1v1h-1zM343 469h2v1h-2zM108 480h1v1h-1zM326 480h3v1h-3zM380 480h1v1h-1zM395 480h2v1h-2zM481 405h3v1h-3zM548 405h2v1h-2zM565 405h1v1h-1zM248 452h6v1h-6zM135 463h1v1h-1zM273 463h7v1h-7zM436 463h1v1h-1zM113 485h2v1h-2zM387 485h2v1h-2zM138 459h1v1h-1zM266 459h3v1h-3zM420 459h1v1h-1zM433 459h1v1h-1zM100 471h1v1h-1zM305 471h2v1h-2zM340 471h2v1h-2zM347 471h4v1h-4zM413 471h1v1h-1zM442 471h1v1h-1zM165 423h1v1h-1zM213 423h1v1h-1zM500 423h2v1h-2zM507 423h2v1h-2zM552 403h4v1h-4zM561 403h3v1h-3zM162 425h2v1h-2zM503 425h2v1h-2zM244 450h2v1h-2zM189 433h1v1h-1zM203 433h1v1h-1zM229 433h1v1h-1zM173 414h1v1h-1zM218 414h1v1h-1zM469 414h1v1h-1zM525 414h2v1h-2zM530 414h2v1h-2zM539 414h1v1h-1zM270 461h2v1h-2zM190 434h2v1h-2zM201 434h2v1h-2zM230 434h1v1h-1zM107 479h1v1h-1zM125 479h1v1h-1zM322 479h4v1h-4zM329 479h1v1h-1zM379 479h1v1h-1zM397 479h1v1h-1zM139 458h1v1h-1zM263 458h3v1h-3zM432 458h1v1h-1zM110 482h1v1h-1zM121 482h3v1h-3zM382 482h1v1h-1zM393 482h1v1h-1zM99 470h1v1h-1zM298 470h7v1h-7zM342 470h1v1h-1zM345 470h2v1h-2zM143 454h1v1h-1zM256 454h2v1h-2zM187 431h1v1h-1zM206 431h2v1h-2zM170 417h1v1h-1zM177 417h1v1h-1zM495 417h1v1h-1zM518 417h2v1h-2zM141 456h1v1h-1zM259 456h2v1h-2zM422 456h1v1h-1zM429 456h1v1h-1zM105 476h1v1h-1zM316 476h2v1h-2zM332 476h1v1h-1zM361 476h4v1h-4zM409 476h1v1h-1zM102 473h1v1h-1zM310 473h2v1h-2zM337 473h2v1h-2zM354 473h2v1h-2zM444 473h2v1h-2zM169 418h1v1h-1zM178 418h1v1h-1zM516 418h2v1h-2zM96 468h2v1h-2zM288 468h1v1h-1zM296 468h1v1h-1zM440 468h1v1h-1zM159 427h1v1h-1zM184 427h1v1h-1zM210 427h1v1h-1zM225 427h1v1h-1zM488 408h1v1h-1zM545 408h1v1h-1zM568 408h1v1h-1zM160 426h2v1h-2zM183 426h1v1h-1zM211 426h1v1h-1zM240 446h1v1h-1zM254 453h2v1h-2zM474 411h1v1h-1zM490 411h1v1h-1zM542 411h1v1h-1zM571 411h1v1h-1zM499 422h1v1h-1zM509 422h2v1h-2zM472 412h2v1h-2zM491 412h1v1h-1zM541 412h1v1h-1zM572 412h1v1h-1zM134 464h1v1h-1zM280 464h2v1h-2zM232 437h1v1h-1zM477 407h1v1h-1zM486 407h2v1h-2zM546 407h1v1h-1zM567 407h1v1h-1zM233 438h1v1h-1zM140 457h1v1h-1zM261 457h2v1h-2zM430 457h2v1h-2zM93 466h1v1h-1zM284 466h2v1h-2zM291 466h2v1h-2zM294 466h1v1h-1zM438 466h1v1h-1zM152 440h1v1h-1zM235 440h1v1h-1zM171 416h1v1h-1zM175 416h2v1h-2zM494 416h1v1h-1zM520 416h2v1h-2zM137 460h1v1h-1zM269 460h1v1h-1zM419 460h1v1h-1zM470 413h2v1h-2zM527 413h3v1h-3zM540 413h1v1h-1zM573 413h1v1h-1zM142 455h1v1h-1zM258 455h1v1h-1zM423 455h6v1h-6zM246 451h2v1h-2zM109 481h1v1h-1zM381 481h1v1h-1zM394 481h1v1h-1zM241 447h1v1h-1zM242 448h1v1h-1zM234 439h1v1h-1zM133 465h1v1h-1zM282 465h2v1h-2zM293 465h1v1h-1zM544 409h1v1h-1zM569 409h1v1h-1zM168 419h1v1h-1zM514 419h2v1h-2zM243 449h1v1h-1zM148 445h1v1h-1zM239 445h1v1h-1zM185 428h1v1h-1zM208 430h1v1h-1z"/>
<path fill="#4FB483" d="M103 479h1V488h-1zM108 479h1V498h-1zM113 479h1V501h-1zM118 479h1V492h-1zM123 479h1V490h-1zM188 479h1V483h-1zM193 479h1V488h-1zM198 479h1V487h-1zM228 479h1V489h-1zM233 479h1V496h-1zM238 479h1V502h-1zM243 479h1V506h-1zM248 479h1V505h-1zM253 479h1V501h-1zM258 479h1V499h-1zM263 479h1V501h-1zM268 479h1V499h-1zM273 479h1V502h-1zM278 479h1V498h-1zM283 479h1V496h-1zM288 479h1V498h-1zM293 479h1V490h-1zM298 479h1V496h-1zM303 479h1V492h-1zM308 479h1V494h-1zM313 479h1V493h-1zM318 479h1V496h-1zM323 479h1V497h-1zM328 479h1V495h-1zM333 479h1V484h-1zM353 479h1V481h-1zM358 479h1V484h-1zM363 479h1V485h-1zM368 479h1V487h-1zM373 479h1V485h-1zM378 479h1V486h-1zM383 479h1V493h-1zM388 479h1V493h-1zM393 479h1V482h-1zM438 479h1V482h-1zM443 479h1V490h-1zM448 479h1V493h-1zM503 479h1V485h-1zM508 479h1V481h-1zM568 479h1V481h-1zM573 479h1V488h-1z"/>
<path fill="#E8465A" d="M93 473h1V480h-1zM98 478h1V480h-1zM128 474h1V480h-1zM133 461h1V480h-1zM138 455h1V480h-1zM143 454h1V480h-1zM148 445h1V480h-1zM153 439h1V480h-1zM158 428h1V480h-1zM163 433h1V480h-1zM168 433h1V480h-1zM173 434h1V480h-1zM178 450h1V480h-1zM183 468h1V480h-1zM203 478h1V480h-1zM208 475h1V480h-1zM213 466h1V480h-1zM218 451h1V480h-1zM223 472h1V480h-1zM338 478h1V480h-1zM343 472h1V480h-1zM348 477h1V480h-1zM398 477h1V480h-1zM403 476h1V480h-1zM408 476h1V480h-1zM413 466h1V480h-1zM418 453h1V480h-1zM423 449h1V480h-1zM428 455h1V480h-1zM433 467h1V480h-1zM453 470h1V480h-1zM458 445h1V480h-1zM463 424h1V480h-1zM468 411h1V480h-1zM473 422h1V480h-1zM478 424h1V480h-1zM483 433h1V480h-1zM488 448h1V480h-1zM493 465h1V480h-1zM498 477h1V480h-1zM513 477h1V480h-1zM518 472h1V480h-1zM523 468h1V480h-1zM528 467h1V480h-1zM533 474h1V480h-1zM538 475h1V480h-1zM543 466h1V480h-1zM548 462h1V480h-1zM553 461h1V480h-1zM558 467h1V480h-1zM563 469h1V480h-1z"/>
<text x="92.4" y="395" fill="#000" textLength="85.1" lengthAdjust="spacingAndGlyphs">MACD(26,12,9)</text>
<text x="182.3" y="395" fill="#4A90E2" textLength="58.0" lengthAdjust="spacingAndGlyphs">DIFF:1.035</text>
<text x="249.1" y="395" fill="#52C587" textLength="57.1" lengthAdjust="spacingAndGlyphs">DEA:1.095</text>
<text x="315.2" y="395" fill="#3FA8E4" textLength="75.9" lengthAdjust="spacingAndGlyphs">MACD:-0.120</text>
<path fill="#22A7E2" d="M147 558h1v3h-1zM200 569h1v2h-1zM116 598h1v5h-1zM451 571h1v10h-1zM294 582h1v5h-1zM516 558h1v2h-1zM222 577h1v12h-1zM212 551h1v3h-1zM455 548h1v3h-1zM192 584h1v2h-1zM474 561h1v2h-1zM424 561h1v4h-1zM416 556h1v3h-1zM459 537h1v2h-1zM216 540h1v3h-1zM370 598h1v2h-1zM276 592h1v2h-1zM488 572h1v3h-1zM256 585h1v2h-1zM531 561h1v3h-1zM245 594h1v2h-1zM174 552h1v6h-1zM208 563h1v2h-1zM554 544h1v3h-1zM449 590h1v10h-1zM229 595h1v2h-1zM332 581h1v4h-1zM123 596h1v3h-1zM470 540h1v6h-1zM450 581h1v9h-1zM219 542h1v12h-1zM388 604h1v4h-1zM421 555h1v2h-1zM344 580h1v4h-1zM454 551h1v4h-1zM211 554h1v3h-1zM568 572h1v3h-1zM191 586h1v2h-1zM302 593h1v2h-1zM347 593h1v4h-1zM412 568h1v6h-1zM538 558h1v3h-1zM215 543h1v3h-1zM275 594h1v2h-1zM286 594h1v2h-1zM267 590h1v2h-1zM162 554h1v4h-1zM413 564h1v4h-1zM561 552h1v2h-1zM264 594h1v2h-1zM287 596h1v2h-1zM508 564h1v2h-1zM417 553h1v3h-1zM158 539h1v3h-1zM384 614h1v2h-1zM177 569h1v6h-1zM438 611h1v2h-1zM427 573h1v4h-1zM115 603h1v4h-1zM534 567h1v2h-1zM127 576h1v5h-1zM180 581h1v3h-1zM473 560h1v4h-1zM423 559h1v2h-1zM366 600h1v2h-1zM389 600h1v4h-1zM503 579h1v2h-1zM431 588h1v3h-1zM530 558h1v3h-1zM507 566h1v3h-1zM173 549h1v3h-1zM107 614h1v2h-1zM165 556h1v2h-1zM331 585h1v5h-1zM146 561h1v4h-1zM155 547h1v2h-1zM430 585h1v3h-1zM293 579h1v3h-1zM199 571h1v2h-1zM290 589h1v4h-1zM506 569h1v4h-1zM557 552h1v3h-1zM118 590h1v3h-1zM369 600h1v2h-1zM244 596h1v2h-1zM297 597h1v5h-1zM393 584h1v3h-1zM154 549h1v3h-1zM542 545h1v3h-1zM392 587h1v4h-1zM564 553h1v5h-1zM176 563h1v6h-1zM556 549h1v3h-1zM195 579h1v2h-1zM289 593h1v4h-1zM301 595h1v3h-1zM179 579h1v2h-1zM419 552h1v2h-1zM210 557h1v3h-1zM553 542h1v2h-1zM114 607h1v5h-1zM274 596h1v2h-1zM537 561h1v2h-1zM232 591h1v2h-1zM126 581h1v5h-1zM106 612h1v2h-1zM203 563h1v2h-1zM487 570h1v2h-1zM426 569h1v4h-1zM194 581h1v2h-1zM300 598h1v3h-1zM383 616h1v2h-1zM434 598h1v3h-1zM415 559h1v2h-1zM328 598h1v3h-1zM458 539h1v2h-1zM469 533h1v7h-1zM218 536h1v6h-1zM533 568h1v2h-1zM448 600h1v5h-1zM221 565h1v12h-1zM346 588h1v5h-1zM437 608h1v3h-1zM304 592h1v2h-1zM567 567h1v5h-1zM387 608h1v2h-1zM161 550h1v4h-1zM190 588h1v2h-1zM563 550h1v3h-1zM411 574h1v5h-1zM457 541h1v4h-1zM214 546h1v2h-1zM380 606h1v3h-1zM541 548h1v4h-1zM477 555h1v2h-1zM125 586h1v5h-1zM198 573h1v2h-1zM259 589h1v2h-1zM157 541h1v3h-1zM262 594h1v2h-1zM472 553h1v7h-1zM373 592h1v2h-1zM160 546h1v4h-1zM475 559h1v2h-1zM103 606h1v2h-1zM296 592h1v5h-1zM453 555h1v6h-1zM288 597h1v2h-1zM153 552h1v2h-1zM391 591h1v5h-1zM175 558h1v5h-1zM540 552h1v3h-1zM183 589h1v2h-1zM532 564h1v4h-1zM164 558h1v2h-1zM278 588h1v2h-1zM303 591h1v2h-1zM566 562h1v5h-1zM122 596h1v2h-1zM452 561h1v10h-1zM422 557h1v2h-1zM491 579h1v2h-1zM414 561h1v3h-1zM379 602h1v4h-1zM307 596h1v2h-1zM410 579h1v5h-1zM529 554h1v4h-1zM209 560h1v3h-1zM220 554h1v11h-1zM145 565h1v3h-1zM251 584h1v2h-1zM102 604h1v2h-1zM558 555h1v2h-1zM429 581h1v4h-1zM284 591h1v2h-1zM295 587h1v5h-1zM213 548h1v3h-1zM386 610h1v2h-1zM189 590h1v2h-1zM390 596h1v4h-1zM536 563h1v2h-1zM273 598h1v2h-1zM182 587h1v2h-1zM223 589h1v6h-1zM202 565h1v2h-1zM432 591h1v4h-1zM330 590h1v4h-1zM144 568h1v3h-1zM471 546h1v7h-1zM156 544h1v3h-1zM299 601h1v2h-1zM490 577h1v2h-1zM345 584h1v4h-1zM436 604h1v4h-1zM292 581h1v4h-1zM178 575h1v4h-1zM314 598h1v2h-1zM261 592h1v2h-1zM539 555h1v3h-1zM105 610h1v2h-1zM468 529h1v4h-1zM108 616h1v2h-1zM117 593h1v5h-1zM368 602h1v2h-1zM348 597h1v3h-1zM478 553h1v2h-1zM486 567h1v3h-1zM435 601h1v3h-1zM425 565h1v4h-1zM479 554h1v2h-1zM565 558h1v4h-1zM101 602h1v2h-1zM382 612h1v4h-1zM428 577h1v4h-1zM409 584h1v6h-1zM124 591h1v5h-1zM197 575h1v2h-1zM493 583h1v2h-1zM329 594h1v4h-1zM341 579h1v2h-1zM543 543h1v2h-1zM291 585h1v4h-1zM385 612h1v2h-1zM159 542h1v4h-1zM104 608h1v2h-1zM485 564h1v3h-1zM378 600h1v2h-1zM128 573h1v3h-1zM163 558h1v3h-1zM181 584h1v3h-1zM381 609h1v3h-1zM298 602h1v3h-1zM333 578h1v3h-1zM492 581h1v2h-1zM272 596h1v2h-1zM167 552h1v2h-1zM317 603h1v2h-1zM148 556h1v2h-1zM248 588h1v2h-1zM456 545h1v3h-1zM374 593h1v2h-1zM143 571h1v2h-1zM535 565h1v2h-1zM408 590h1v3h-1zM504 576h1v3h-1zM482 558h1v2h-1zM119 591h1v2h-1zM489 575h1v2h-1zM377 598h1v2h-1zM343 577h1v3h-1zM131 569h1v2h-1zM100 600h1v2h-1zM166 554h1v2h-1zM271 594h1v2h-1zM316 601h1v2h-1zM484 562h1v2h-1zM433 595h1v3h-1zM99 598h1v2h-1zM270 592h1v2h-1zM462 533h1v2h-1zM277 590h1v2h-1zM113 612h1v3h-1zM376 596h1v2h-1zM483 560h1v2h-1zM476 557h1v2h-1zM372 594h1v2h-1zM121 594h1v2h-1zM247 590h1v2h-1zM269 590h1v2h-1zM505 573h1v3h-1zM201 567h1v2h-1zM217 538h1v2h-1zM371 596h1v2h-1zM528 552h1v2h-1zM246 592h1v2h-1zM418 551h1v2h-1zM555 547h1v2h-1zM196 577h1v2h-1zM224 595h2v1h-2zM239 595h1v1h-1zM306 595h1v1h-1zM375 595h1v1h-1zM204 563h2v1h-2zM510 563h2v1h-2zM94 601h1v1h-1zM325 601h2v1h-2zM460 536h1v1h-1zM336 581h1v1h-1zM340 581h1v1h-1zM500 581h2v1h-2zM249 587h1v1h-1zM257 587h1v1h-1zM401 587h1v1h-1zM193 583h1v1h-1zM252 583h1v1h-1zM254 583h1v1h-1zM338 583h1v1h-1zM495 583h2v1h-2zM206 564h2v1h-2zM509 564h1v1h-1zM93 602h1v1h-1zM323 602h2v1h-2zM367 602h1v1h-1zM226 596h2v1h-2zM240 596h2v1h-2zM263 596h1v1h-1zM334 579h1v1h-1zM253 582h1v1h-1zM337 582h1v1h-1zM339 582h1v1h-1zM497 582h3v1h-3zM258 588h1v1h-1zM279 588h1v1h-1zM402 588h1v1h-1zM97 598h1v1h-1zM243 598h1v1h-1zM308 598h3v1h-3zM350 598h2v1h-2zM355 598h2v1h-2zM360 598h2v1h-2zM364 598h1v1h-1zM135 569h2v1h-2zM129 572h1v1h-1zM141 572h2v1h-2zM571 572h2v1h-2zM109 616h2v1h-2zM98 597h1v1h-1zM228 597h1v1h-1zM242 597h1v1h-1zM311 597h3v1h-3zM352 597h3v1h-3zM362 597h2v1h-2zM185 591h2v1h-2zM234 591h1v1h-1zM260 591h1v1h-1zM406 591h2v1h-2zM335 580h1v1h-1zM502 580h1v1h-1zM544 543h2v1h-2zM550 543h2v1h-2zM522 552h1v1h-1zM526 552h2v1h-2zM120 593h1v1h-1zM231 593h1v1h-1zM237 593h1v1h-1zM265 593h1v1h-1zM285 593h1v1h-1zM151 554h2v1h-2zM420 554h1v1h-1zM520 554h1v1h-1zM560 554h1v1h-1zM168 551h2v1h-2zM523 551h3v1h-3zM562 551h1v1h-1zM184 590h1v1h-1zM233 590h1v1h-1zM282 590h2v1h-2zM404 590h2v1h-2zM111 615h2v1h-2zM137 570h1v1h-1zM96 599h1v1h-1zM349 599h1v1h-1zM357 599h3v1h-3zM365 599h1v1h-1zM187 592h2v1h-2zM235 592h2v1h-2zM266 592h1v1h-1zM521 553h1v1h-1zM268 589h1v1h-1zM280 589h2v1h-2zM403 589h1v1h-1zM255 584h1v1h-1zM394 584h5v1h-5zM494 584h1v1h-1zM230 594h1v1h-1zM238 594h1v1h-1zM305 594h1v1h-1zM342 578h1v1h-1zM149 555h2v1h-2zM519 555h1v1h-1zM559 555h1v1h-1zM95 600h1v1h-1zM315 600h1v1h-1zM327 600h1v1h-1zM444 607h1v1h-1zM445 606h2v1h-2zM569 573h2v1h-2zM463 532h1v1h-1zM318 605h1v1h-1zM447 605h1v1h-1zM546 544h4v1h-4zM515 560h1v1h-1zM250 586h1v1h-1zM400 586h1v1h-1zM321 603h2v1h-2zM552 542h1v1h-1zM170 550h2v1h-2zM464 531h2v1h-2zM466 530h2v1h-2zM319 604h2v1h-2zM512 562h2v1h-2zM481 557h1v1h-1zM517 557h1v1h-1zM130 571h1v1h-1zM138 571h3v1h-3zM573 571h1v1h-1zM439 611h1v1h-1zM443 608h1v1h-1zM480 556h1v1h-1zM518 556h1v1h-1zM440 610h2v1h-2zM514 561h1v1h-1zM442 609h1v1h-1zM133 567h1v1h-1zM132 568h1v1h-1zM134 568h1v1h-1zM172 549h1v1h-1zM461 535h1v1h-1zM399 585h1v1h-1z"/>
<text x="92.4" y="521" fill="#000" textLength="73.7" lengthAdjust="spacingAndGlyphs">RSI(14,14,14)</text>
<text x="170.8" y="521" fill="#4A90E2" textLength="67.1" lengthAdjust="spacingAndGlyphs">RSI1:58.280</text>
<text x="245.8" y="521" fill="#52C587" textLength="66.4" lengthAdjust="spacingAndGlyphs">RSI2:58.280</text>
<text x="321.6" y="521" fill="#3FA8E4" textLength="66.6" lengthAdjust="spacingAndGlyphs">RSI3:58.280</text>
<g stroke="#F00" stroke-width="1.05" fill="none"><path d="M28.6 507v1.8M28.6 519.1v1.9M22 513.4h2.1M33.9 513.4h2.1"/><path stroke-width="1.35" d="M23.2 508.2l1.8 1.5M35 508.2l-1.9 1.5M23.2 519.7l1.8-1.5M35 519.7l-1.9-1.5"/><path stroke="#000" stroke-width="1.1" d="M27.3 510.4h3.4l1.8 1.75v3.45l-1.8 1.75h-3.4l-1.8-1.75v-3.45z"/></g><path fill="#F00" d="M28 511.9h1.8v1h1v1.9h-1v1h-1.8v-1h-1v-1.9h1z"/>
<rect x="89.3" y="618" width="1" height="19" fill="#C3C9D2"/>
<rect x="20" y="618" width="1" height="19" fill="#CDD4DE"/>
<rect x="108" y="619" width="1" height="5" fill="#C8CED6"/>
<text class="b" x="110.1" y="631" fill="#1E2230" textLength="44" lengthAdjust="spacingAndGlyphs">2025/07</text>
<rect x="223" y="619" width="1" height="5" fill="#C8CED6"/>
<text class="b" x="225.1" y="631" fill="#1E2230" textLength="44" lengthAdjust="spacingAndGlyphs">2025/08</text>
<rect x="328" y="619" width="1" height="5" fill="#C8CED6"/>
<text class="b" x="330.1" y="631" fill="#1E2230" textLength="44" lengthAdjust="spacingAndGlyphs">2025/09</text>
<rect x="438" y="619" width="1" height="5" fill="#C8CED6"/>
<text class="b" x="440.1" y="631" fill="#1E2230" textLength="44" lengthAdjust="spacingAndGlyphs">2025/10</text>
<rect x="553" y="619" width="1" height="5" fill="#C8CED6"/>
<text class="b" x="555.1" y="631" fill="#1E2230" textLength="44" lengthAdjust="spacingAndGlyphs">2025/11</text>
<text class="cjk b" x="35" y="633.4" fill="#FF7F1A" style="font-size:12.5px">日线</text>
<path fill="#FF7F1A" d="M64 633.6l4.8-9l4.8 9z"/>
<defs><filter id="wb" x="-10%" y="-20%" width="120%" height="140%"><feGaussianBlur stdDeviation="0.7"/></filter></defs>
<g style="letter-spacing:3.6px"><text x="540.5" y="612.3" fill="#B09878" opacity="0.85" filter="url(#wb)" style="font-size:29px">FX678</text><text x="539.3" y="611.1" fill="#D2DFF4" style="font-size:29px">FX678</text></g>
</svg></body></html>
